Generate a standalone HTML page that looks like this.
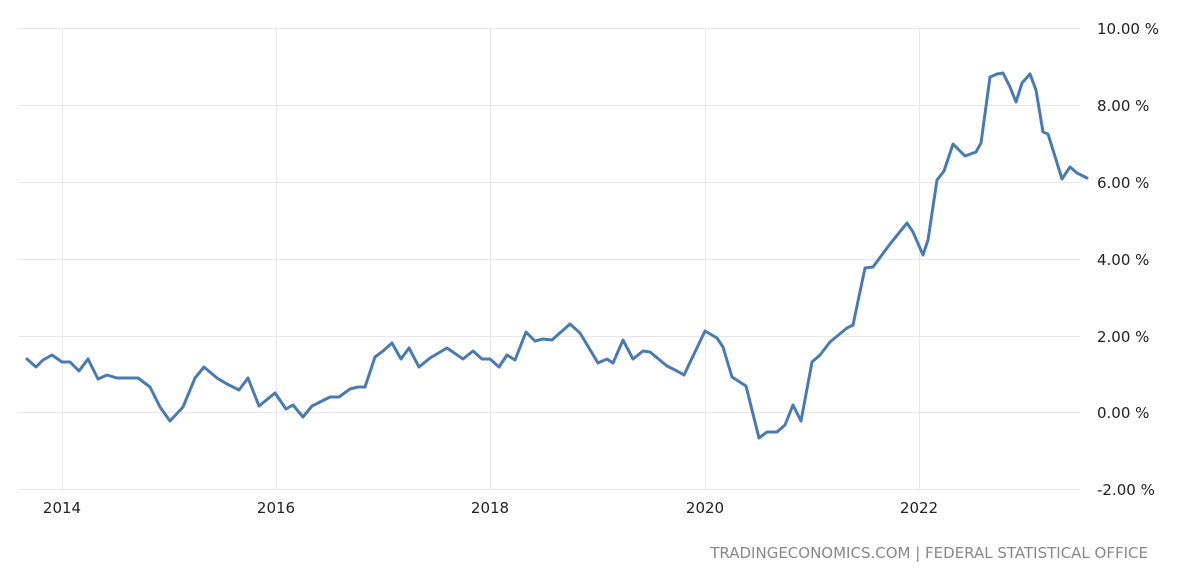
<!DOCTYPE html>
<html><head><meta charset="utf-8"><style>
html,body{margin:0;padding:0;background:#fff;}
svg{display:block;font-family:"DejaVu Sans","Liberation Sans",sans-serif;}
</style></head><body>
<svg width="1200" height="583" viewBox="0 0 1200 583">
<g stroke="#e8e8e8" stroke-width="1">
<line x1="18" y1="28.5" x2="1080" y2="28.5"/>
<line x1="18" y1="105.5" x2="1080" y2="105.5"/>
<line x1="18" y1="182.5" x2="1080" y2="182.5"/>
<line x1="18" y1="259.5" x2="1080" y2="259.5"/>
<line x1="18" y1="336.5" x2="1080" y2="336.5"/>
<line x1="18" y1="412.5" x2="1080" y2="412.5"/>
<line x1="18" y1="489.5" x2="1080" y2="489.5"/>
<line x1="62.5" y1="28" x2="62.5" y2="490"/>
<line x1="276.5" y1="28" x2="276.5" y2="490"/>
<line x1="490.5" y1="28" x2="490.5" y2="490"/>
<line x1="705.5" y1="28" x2="705.5" y2="490"/>
<line x1="919.5" y1="28" x2="919.5" y2="490"/>
</g>
<polyline fill="none" stroke="#4a7bb0" stroke-width="3" stroke-linejoin="round" stroke-linecap="round" points="27,359 36,367 43,360 52,355 62,362 70,362 79,371 88,359 98,379 107,375 117,378 138,378 150,387 160,407 170,421 183,407 195,378 204,367 217,378 227,384 239,390 248,378 259,406 275,393 286,409 293,405 303,417 312,406 330,397 339,397 350,389 358,387 365,387 375,357 383,351 392,343 401,359 409,348 419,367 430,358 447,348 463,359 473,351 482,359 490,359 499,367 507,355 515,360 526,332 535,341 543,339 552,340 570,324 580,333 598,363 607,359 613,363 623,340 633,359 643,351 650,352 667,366 677,371 684,375 705,331 717,338 723,347 732,377 746,386 759,438 767,432 777,432 785,425 793,405 801,421 812,362 820,355 830,342 847,328 853,325 865,268 873,267 890,244 907,223 913,232 923,255 928,240 937,180 944,171 953,144 965,156 976,152 981,143 990,77 997,74 1003,73 1010,87 1016,102 1022,83 1030,74 1036,90 1043,132 1048,134 1053,150 1062,179 1070,167 1077,173 1087,178"/>
<g font-size="15" fill="#222">
<text x="1097" y="34">10.00 %</text>
<text x="1097" y="111">8.00 %</text>
<text x="1097" y="188">6.00 %</text>
<text x="1097" y="265">4.00 %</text>
<text x="1097" y="342">2.00 %</text>
<text x="1097" y="418">0.00 %</text>
<text x="1097" y="495">-2.00 %</text>
<g text-anchor="middle">
<text x="62" y="513">2014</text>
<text x="276" y="513">2016</text>
<text x="490" y="513">2018</text>
<text x="705" y="513">2020</text>
<text x="919" y="513">2022</text>
</g>
</g>
<text x="1148" y="558" text-anchor="end" font-size="15" fill="#888">TRADINGECONOMICS.COM | FEDERAL STATISTICAL OFFICE</text>
</svg>
</body></html>
